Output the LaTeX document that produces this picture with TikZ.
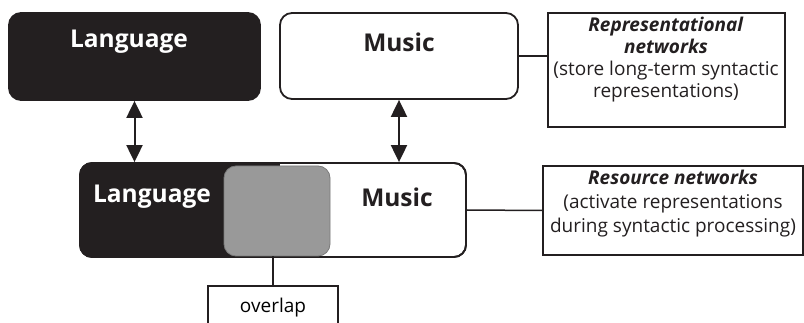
\documentclass[tikz,border=0pt]{standalone}
\usepackage{fontspec}
\setmainfont{Open Sans}
\usetikzlibrary{arrows.meta}
\definecolor{ink}{HTML}{231F20}
\definecolor{ovgray}{HTML}{999999}
\tikzset{
  netbox/.style={draw=ink, line width=1.8pt, rounded corners=12pt, inner sep=0pt},
  notebox/.style={draw=ink, line width=1.5pt, inner sep=0pt, align=center},
  notetext/.style={align=center, inner sep=0pt, text=ink},
  biglabel/.style={font=\fontsize{24.5}{30}\selectfont\bfseries, inner sep=0pt},
  link/.style={draw=ink, line width=1.5pt},
  dbl/.style={draw=ink, line width=2pt, {Triangle[length=17pt,width=16pt]}-{Triangle[length=17pt,width=16pt]}}
}
\begin{document}
\begin{tikzpicture}[x=1pt,y=-1pt]
\useasboundingbox (0,0) rectangle (804,323);
% top row
\node[netbox, fill=ink, minimum width=251pt, minimum height=87pt] (langT) at (134.5,56.5) {};
\node[biglabel, text=white] (langTt) at (129,42) {Language};
\node[netbox, fill=white, minimum width=238pt, minimum height=86pt] (musT) at (399,56) {};
\node[biglabel, text=ink] (musTt) at (399,42) {Music};
\node[notebox, minimum width=237pt, minimum height=114pt] (rep) at (666.5,70) {};
\node[notetext, font=\fontsize{19}{22}\selectfont] (rept) at (666,60)
  {\textbf{\textit{Representational}}\\\textbf{\textit{networks}}\\(store long-term syntactic\\representations)};
% bottom row
\node[netbox, fill=white, minimum width=386pt, minimum height=94pt] (bot) at (273,210) {};
\begin{scope}
  \clip[rounded corners=12pt] (80,163) rectangle (466,257);
  \fill[ink] (80,163) rectangle (280,257);
\end{scope}
\draw[draw=ink, line width=1.8pt, rounded corners=12pt] (80,163) rectangle (466,257);
\node[draw=ovgray!80!black, line width=0.8pt, fill=ovgray, rounded corners=12pt, minimum width=106pt, minimum height=90pt] (ovl) at (277,211) {};
\node[biglabel, text=white] (langBt) at (152,197) {Language};
\node[biglabel, text=ink] (musBt) at (397,197) {Music};
\node[notebox, minimum width=260pt, minimum height=89pt] (res) at (673,210.5) {};
\node[notetext, font=\fontsize{19}{24}\selectfont] (rest) at (673,204)
  {\textbf{\textit{Resource networks}}\\(activate representations\\during syntactic processing)};
\node[notebox, minimum width=130pt, minimum height=44pt, font=\fontsize{19}{22}\selectfont] (ovbox) at (273,308) {overlap};
% connectors
\draw[dbl] (langT.south) -- (langT.south |- bot.north);
\draw[dbl] (musT.south) -- (musT.south |- bot.north);
\draw[link] (musT.east) -- (musT.east -| rep.west);
\draw[link] (bot.east) -- (res.west);
\draw[link] (ovl.south -| ovbox.north) -- (ovbox.north);
\end{tikzpicture}
\end{document}
